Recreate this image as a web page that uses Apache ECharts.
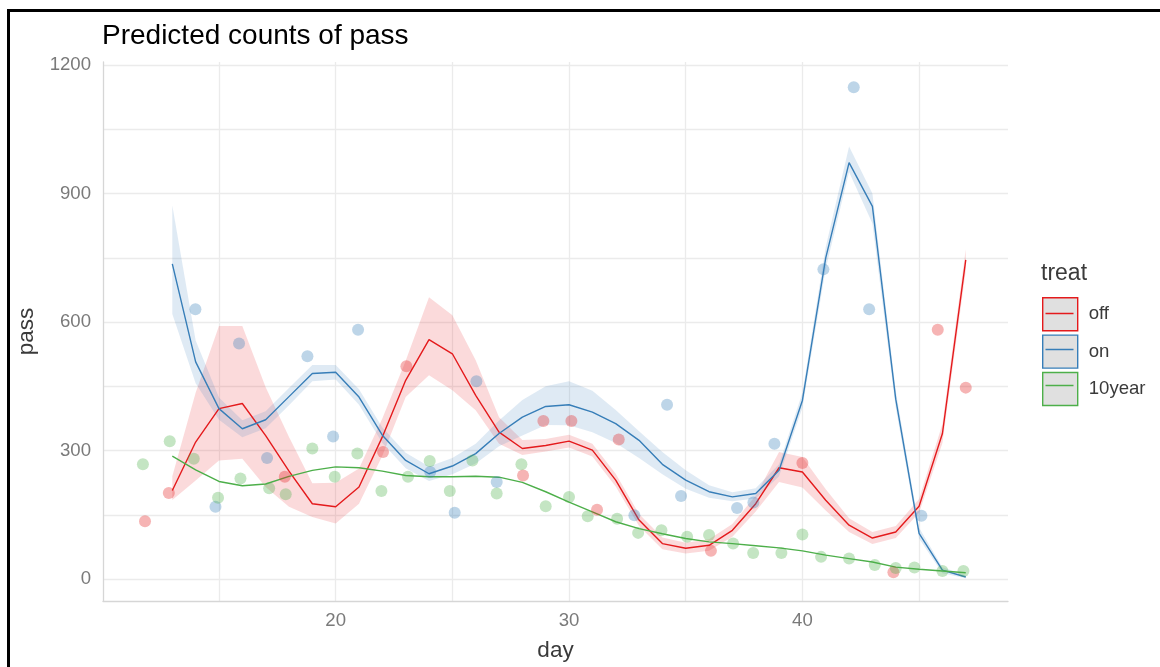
<!DOCTYPE html>
<html>
<head>
<meta charset="utf-8">
<title>Predicted counts of pass</title>
<script src="https://cdn.jsdelivr.net/npm/echarts@6/dist/echarts.min.js"></script>
<style>
  html, body { margin: 0; padding: 0; background: #fff; }
  #wrap { position: relative; width: 1160px; height: 667px; overflow: hidden; }
  #chart { position: absolute; left: 0; top: 0; width: 1160px; height: 667px; }
  #frame { position: absolute; left: 7px; top: 9px; width: 1200px; height: 700px;
           border-left: 3px solid #000; border-top: 3px solid #000; pointer-events: none; }
</style>
</head>
<body>
<div id="wrap">
  <div id="chart"></div>
  <div id="frame"></div>
</div>
<script>
// Model predictions per day (fit and confidence band) for each treatment
const days = [13,14,15,16,17,18,19,20,21,22,23,24,25,26,27,28,29,30,31,32,33,34,35,36,37,38,39,40,41,42,43,44,45,46,47];

const offFit  = [207,320,398,410,335,252,176,169,215,332,464,559,526,429,343,305,312,322,301,231,138,83,72,79,114,176,260,250,184,126,96,110,170,340,745];
const offLow  = [185,230,277,281,215,169,145,130,176,288,425,476,441,394,316,290,298,307,286,216,124,70,60,66,99,158,227,214,160,110,82,96,155,318,720];
const offHigh = [240,435,591,591,448,332,224,225,258,375,510,658,616,511,378,325,327,337,316,246,152,97,85,93,129,195,297,285,210,142,110,124,187,362,770];

const onFit  = [736,507,398,351,372,426,480,483,425,336,277,246,264,293,340,378,403,407,390,363,324,268,231,204,192,200,254,417,750,972,870,420,107,21,5];
const onLow  = [619,457,372,331,352,406,462,466,407,318,259,229,245,270,310,335,360,359,343,318,283,245,211,190,182,188,240,400,725,950,830,400,95,14,2];
const onHigh = [872,557,424,371,392,446,500,500,443,354,295,263,283,316,370,418,450,462,440,395,345,297,254,219,203,212,268,435,775,1010,900,440,120,28,9];

const yearFit = [287,255,228,218,222,240,254,262,260,252,242,239,239,240,238,226,204,180,157,134,118,106,95,87,83,78,73,66,56,48,40,28,23,19,15];

// Observed counts
const offObsDay  = [11.83,12.85,17.82,22.03,23.03,28.03,28.9,30.1,31.2,32.13,36.08,40.0,43.9,45.8,47.0];
const offObsPass = [135,201,239,297,497,242,369,369,162,326,66,271,16,582,447];

const onObsDay  = [13.99,14.85,15.86,17.06,18.79,19.89,20.96,24.05,25.1,26.03,26.9,32.8,34.2,34.8,37.2,37.9,38.8,40.9,42.2,42.86,45.1];
const onObsPass = [630,169,550,283,520,333,582,250,155,462,227,149,407,194,166,179,316,723,1148,630,148];

const yearObsDay  = [11.74,12.89,13.92,14.96,15.92,17.15,17.86,19.0,19.96,20.93,21.96,23.1,24.03,24.89,25.86,26.9,27.96,29.0,30.0,30.8,32.06,32.96,33.96,35.06,36.0,37.03,37.89,39.1,40.0,40.8,42.0,43.1,44.0,44.8,46.0,46.9];
const yearObsPass = [268,322,281,190,235,212,198,305,239,293,206,239,276,206,277,200,268,170,192,147,141,108,114,99,103,83,61,61,104,52,48,33,26,27,19,19];

// Axis ticks and gridline positions
const xTickLabels = [20, 30, 40];
const yTickLabels = [0, 300, 600, 900, 1200];
const xGridValues = [15, 20, 25, 30, 35, 40, 45];
const yGridValues = [0, 150, 300, 450, 600, 750, 900, 1050, 1200];

const treatNames = ['off', 'on', '10year'];

const COLORS = { off: '#E41A1C', on: '#377EB8', '10year': '#4DAF4A' };
const FONT = '"Liberation Sans", Arial, Helvetica, sans-serif';

function pairs(xs, ys) { return xs.map((x, i) => [x, ys[i]]); }

// Confidence band: one polygon built from the upper edge and the reversed lower edge
function bandSeries(name, lo, hi, fill) {
  return {
    type: 'custom', name: name, z: 1, silent: true,
    data: days.map((d, i) => [d, lo[i], hi[i]]),
    encode: { x: 0, y: [1, 2] },
    renderItem: function (params, api) {
      if (params.dataIndex !== 0) return null;
      const upper = days.map((d, i) => api.coord([d, hi[i]]));
      const lower = days.map((d, i) => api.coord([d, lo[i]])).reverse();
      return { type: 'polygon', shape: { points: upper.concat(lower) }, style: { fill: fill } };
    }
  };
}

function fitSeries(name, values) {
  return {
    type: 'line', name: name, z: 2, silent: true,
    data: pairs(days, values),
    symbol: 'none', showSymbol: false,
    lineStyle: { color: COLORS[name], width: 1.4 }
  };
}

function pointSeries(name, xs, ys) {
  return {
    type: 'scatter', name: name, z: 3, silent: true,
    data: pairs(xs, ys),
    symbol: 'circle', symbolSize: 12,
    itemStyle: { color: COLORS[name], opacity: 0.33 }
  };
}

// Legend key line: a 35x33 box whose corners are pinned by two tiny marks, with the line across its middle
const keyLinePath = 'path://M0,0 L0.01,0 L0.01,0.01 Z M34.99,32.99 L35,32.99 L35,33 Z M3.5,15.75 L31.5,15.75 L31.5,17.25 L3.5,17.25 Z';

const chart = echarts.init(document.getElementById('chart'), null, { renderer: 'canvas' });

const option = {
  backgroundColor: 'transparent',
  animation: false,
  textStyle: { fontFamily: FONT },
  title: [
    { text: 'Predicted counts of pass', left: 102, top: 22, padding: 0,
      textStyle: { fontFamily: FONT, fontSize: 28, fontWeight: 'normal', color: '#000' } },
    { text: 'treat', left: 1041, top: 262, padding: 0,
      textStyle: { fontFamily: FONT, fontSize: 23, fontWeight: 'normal', color: '#3a3a3a' } }
  ],
  legend: [
    {
      orient: 'vertical', left: 1042, top: 297, padding: 0,
      itemWidth: 35, itemHeight: 33, itemGap: 3, selectedMode: false,
      textStyle: { fontFamily: FONT, fontSize: 18.6, color: '#3a3a3a', padding: [0, 0, 0, 6] },
      data: treatNames.map(n => ({
        name: n, icon: 'rect',
        itemStyle: { color: '#E0E0E0', borderColor: COLORS[n], borderWidth: 1.4, opacity: 1 }
      }))
    },
    {
      orient: 'vertical', left: 1042, top: 297, padding: 0,
      itemWidth: 35, itemHeight: 33, itemGap: 3, selectedMode: false,
      textStyle: { fontFamily: FONT, fontSize: 18.6, color: 'rgba(0,0,0,0)', padding: [0, 0, 0, 6] },
      data: treatNames.map(n => ({
        name: n, icon: keyLinePath,
        itemStyle: { color: COLORS[n], borderColor: COLORS[n], borderWidth: 0, opacity: 1 }
      }))
    }
  ],
  grid: { left: 103, right: 152, top: 62, bottom: 66, containLabel: false, outerBoundsMode: 'none' },
  xAxis: {
    type: 'value', min: 10.03, max: 48.81,
    name: 'day', nameLocation: 'middle', nameGap: 38,
    nameTextStyle: { fontFamily: FONT, fontSize: 22.5, color: '#3a3a3a' },
    axisLine: { show: true, onZero: false, lineStyle: { color: '#D6D6D6', width: 1.3 } },
    axisTick: { show: false, customValues: xTickLabels },
    axisLabel: { customValues: xTickLabels, margin: 10, formatter: v => String(v),
      fontFamily: FONT, fontSize: 18.6, color: '#7a7a7a' },
    splitLine: { show: false }
  },
  yAxis: {
    type: 'value', min: -51, max: 1207,
    name: 'pass', nameLocation: 'middle', nameGap: 44, nameRotate: 90,
    nameTextStyle: { fontFamily: FONT, fontSize: 22.5, color: '#3a3a3a' },
    axisLine: { show: true, onZero: false, lineStyle: { color: '#D6D6D6', width: 1.3 } },
    axisTick: { show: false, customValues: yTickLabels },
    axisLabel: { customValues: yTickLabels, margin: 12, formatter: v => String(v),
      fontFamily: FONT, fontSize: 18.6, color: '#7a7a7a' },
    splitLine: { show: false }
  },
  series: [
    // points first so the legend picks them up
    pointSeries('off', offObsDay, offObsPass),
    pointSeries('on', onObsDay, onObsPass),
    pointSeries('10year', yearObsDay, yearObsPass),
    bandSeries('off', offLow, offHigh, 'rgba(228,26,28,0.16)'),
    bandSeries('on', onLow, onHigh, 'rgba(55,126,184,0.16)'),
    fitSeries('off', offFit),
    fitSeries('on', onFit),
    fitSeries('10year', yearFit),
    {
      type: 'line', name: 'gridlines', data: [], z: 0, silent: true,
      markLine: {
        silent: true, z: 0, symbol: ['none', 'none'],
        label: { show: false }, emphasis: { disabled: true },
        lineStyle: { color: '#EBEBEB', width: 1.3, type: 'solid' },
        data: xGridValues.map(v => ({ xAxis: v })).concat(yGridValues.map(v => ({ yAxis: v })))
      }
    }
  ]
};

chart.setOption(option);
</script>
</body>
</html>
